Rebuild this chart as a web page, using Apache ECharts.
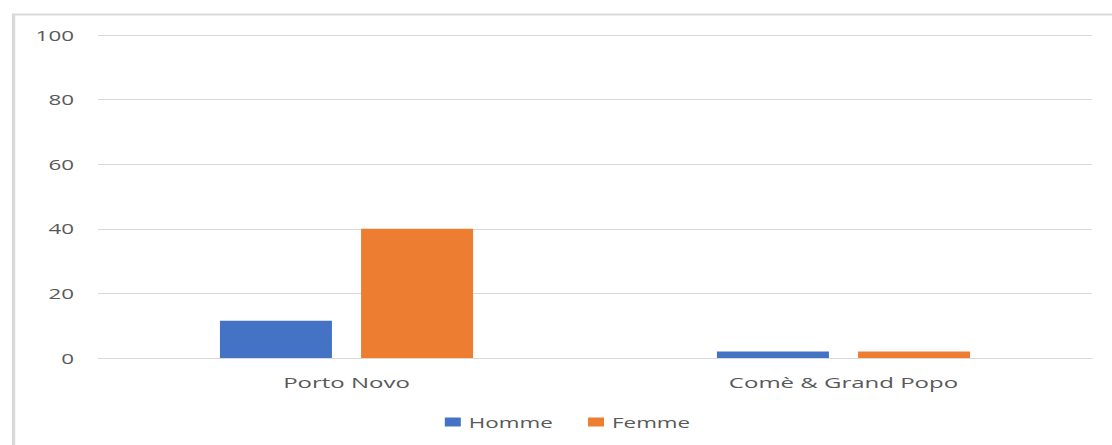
<!DOCTYPE html>
<html>
<head>
<meta charset="utf-8">
<script src="https://cdn.jsdelivr.net/npm/echarts@6/dist/echarts.min.js"></script>
<style>
html,body{margin:0;padding:0;background:#fff;overflow:hidden;}
#wrap{width:1112px;height:445px;overflow:hidden;position:relative;}
#chart{width:695px;height:445px;transform:scaleX(1.6);transform-origin:0 0;position:absolute;left:0;top:0;}
</style>
</head>
<body>
<div id="wrap"><div id="chart"></div></div>
<script>
const categories = ['Porto Novo', 'Comè & Grand Popo'];
const homme = [11.5, 2];
const femme = [40, 2];
const yTicks = [0, 20, 40, 60, 80, 100];

const chart = echarts.init(document.getElementById('chart'), null, {renderer: 'svg'});
const txt = '#595959';
chart.setOption({
  animation: false,
  backgroundColor: '#fff',
  textStyle: {fontFamily: 'Open Sans'},
  graphic: [{
    type: 'rect', left: 6, top: 12, silent: true,
    shape: {width: 800, height: 600},
    style: {fill: 'none', stroke: '#d9d9d9', lineWidth: 2}
  }],
  grid: {left: 61.25, right: 12.5, top: 35, bottom: 87, containLabel: false},
  legend: {
    left: 273, top: 410,
    itemWidth: 10, itemHeight: 9, itemGap: 22,
    icon: 'rect',
    textStyle: {color: txt, fontSize: 14, fontFamily: 'Open Sans'},
    data: ['Homme', 'Femme']
  },
  xAxis: {
    type: 'category', data: categories,
    axisTick: {show: false},
    axisLine: {lineStyle: {color: '#d9d9d9', width: 1}},
    axisLabel: {color: txt, fontSize: 15, margin: 17, fontFamily: 'Open Sans'}
  },
  yAxis: {
    type: 'value', min: yTicks[0], max: yTicks[yTicks.length - 1], interval: 20,
    axisLine: {show: false}, axisTick: {show: false},
    splitLine: {lineStyle: {color: '#d9d9d9', width: 1}},
    axisLabel: {color: txt, fontSize: 14, margin: 15, fontFamily: 'Open Sans'}
  },
  series: [
    {name: 'Homme', type: 'bar', data: homme, barWidth: 70, barGap: '26%',
     itemStyle: {color: '#4472C4'}},
    {name: 'Femme', type: 'bar', data: femme, barWidth: 70, barGap: '26%',
     itemStyle: {color: '#ED7D31'}}
  ]
});
</script>
</body>
</html>
